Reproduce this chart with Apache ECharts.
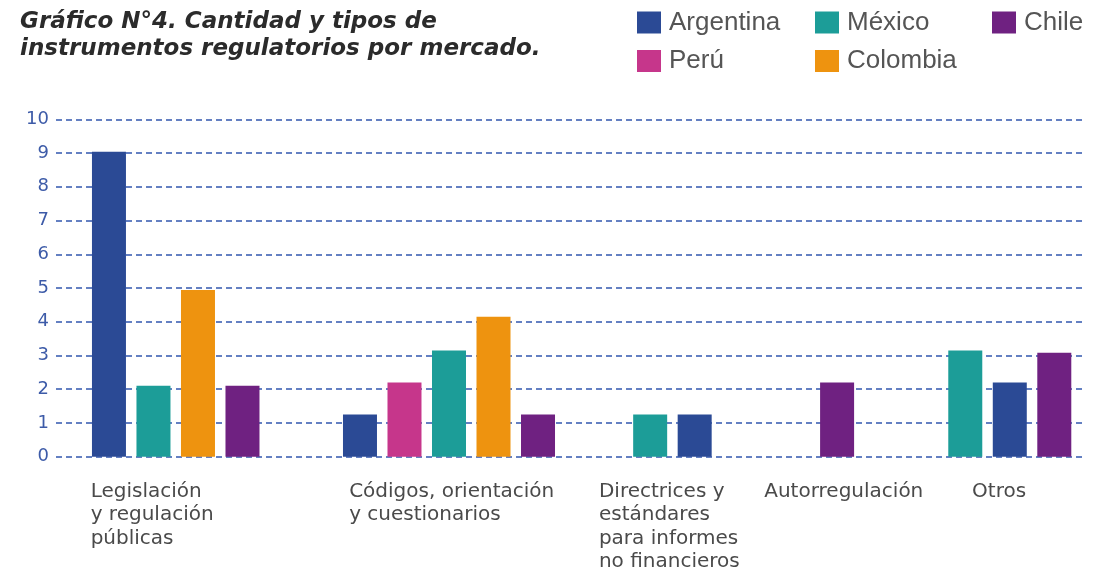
<!DOCTYPE html>
<html>
<head>
<meta charset="utf-8">
<title>Gráfico N°4</title>
<script src="https://cdn.jsdelivr.net/npm/echarts@6/dist/echarts.min.js"></script>
<style>
  html, body { margin: 0; padding: 0; background: #fff; }
  #chart { width: 1114px; height: 574px; }
</style>
</head>
<body>
<div id="chart"></div>
<script>
(function () {
  'use strict';

  const categories = [
    'Legislación\ny regulación\npúblicas',
    'Códigos, orientación\ny cuestionarios',
    'Directrices y\nestándares\npara informes\nno financieros',
    'Autorregulación',
    'Otros'
  ];
  const countries = ['Argentina', 'México', 'Chile', 'Perú', 'Colombia'];

  // bar heights as drawn, one value per category
  const argentina = [9.04, 1.25, 1.25, null, 2.2];
  const mexico = [2.1, 3.15, 1.25, null, 3.15];
  const chile = [2.1, 1.25, null, 2.2, 3.08];
  const peru = [null, 2.2, null, null, null];
  const colombia = [4.94, 4.15, null, null, null];

  // order of the bars inside each group, left to right
  const barOrder = [
    ['Argentina', 'México', 'Colombia', 'Chile'],
    ['Argentina', 'Perú', 'México', 'Colombia', 'Chile'],
    ['México', 'Argentina'],
    ['Chile'],
    ['México', 'Argentina', 'Chile']
  ];

  const colors = {
    'Argentina': '#2b4a95',
    'México': '#1c9d98',
    'Chile': '#6f2181',
    'Perú': '#c6368b',
    'Colombia': '#ee930f'
  };

  // layout in bar slots
  const lead = 1.19;
  const groupGaps = [2.64, 2.52, 3.2, 2.88];
  const xMax = 23.12;
  const labelShift = [-0.53, 0.06, -0.07, 0.15, -0.24];
  const legendColumns = [['Argentina', 'Perú'], ['México', 'Colombia'], ['Chile']];
  const legendLeft = [637, 815, 992];

  const valuesBy = { 'Argentina': argentina, 'México': mexico, 'Chile': chile, 'Perú': peru, 'Colombia': colombia };
  const points = {};
  countries.forEach(c => { points[c] = []; });
  const labelAt = [];
  let x = lead;
  barOrder.forEach((order, g) => {
    if (g > 0) x += groupGaps[g - 1];
    const first = x;
    order.forEach((c, k) => {
      points[c].push([x, valuesBy[c][g]]);
      if (k < order.length - 1) x += 1;
    });
    labelAt.push((first + x) / 2 + labelShift[g]);
  });

  const chart = echarts.init(document.getElementById('chart'));

  const legendBase = {
    orient: 'vertical',
    top: 9.5,
    padding: 0,
    itemWidth: 24,
    itemHeight: 22,
    itemGap: 12.5,
    icon: 'rect',
    selectedMode: false,
    textStyle: { fontFamily: 'Liberation Sans', fontSize: 26, lineHeight: 26, color: '#555', padding: [0, 0, 0, 3] }
  };

  chart.setOption({
    animation: false,
    title: {
      text: 'Gráfico N°4. Cantidad y tipos de\ninstrumentos regulatorios por mercado.',
      left: 20,
      top: 8,
      padding: 0,
      textStyle: { fontFamily: 'DejaVu Sans', fontStyle: 'italic', fontWeight: 'bold', fontSize: 23, lineHeight: 27.5, color: '#2b2b2b' }
    },
    legend: legendColumns.map((col, i) => Object.assign({}, legendBase, { left: legendLeft[i], data: col })),
    grid: { left: 56, right: 29, top: 119.3, bottom: 117.3 },
    xAxis: {
      type: 'value',
      min: 0,
      max: xMax,
      axisLine: { show: false },
      axisTick: { show: false },
      splitLine: { show: false },
      axisLabel: {
        customValues: labelAt,
        align: 'center',
        margin: 23,
        formatter: function (val) {
          const i = labelAt.findIndex(v => Math.abs(v - val) < 1e-6);
          if (i < 0) return '';
          return categories[i].split('\n').map(s => '{t|' + s + '}').join('\n');
        },
        rich: { t: { align: 'left', fontFamily: 'DejaVu Sans', fontSize: 20, lineHeight: 23.5, color: '#4a4a4a' } }
      }
    },
    yAxis: {
      type: 'value',
      min: 0,
      max: 10,
      interval: 1,
      axisLine: { show: false },
      axisTick: { show: false },
      axisLabel: { color: '#3d5ba8', fontFamily: 'DejaVu Sans', fontSize: 18, margin: 7 },
      splitLine: { lineStyle: { color: '#6480c2', width: 2, type: [6, 4] } }
    },
    series: countries.map(c => ({
      name: c,
      type: 'bar',
      barWidth: 34,
      barGap: '-100%',
      itemStyle: { color: colors[c] },
      data: points[c]
    }))
  });

  window.addEventListener('resize', () => chart.resize());
})();
</script>
</body>
</html>
